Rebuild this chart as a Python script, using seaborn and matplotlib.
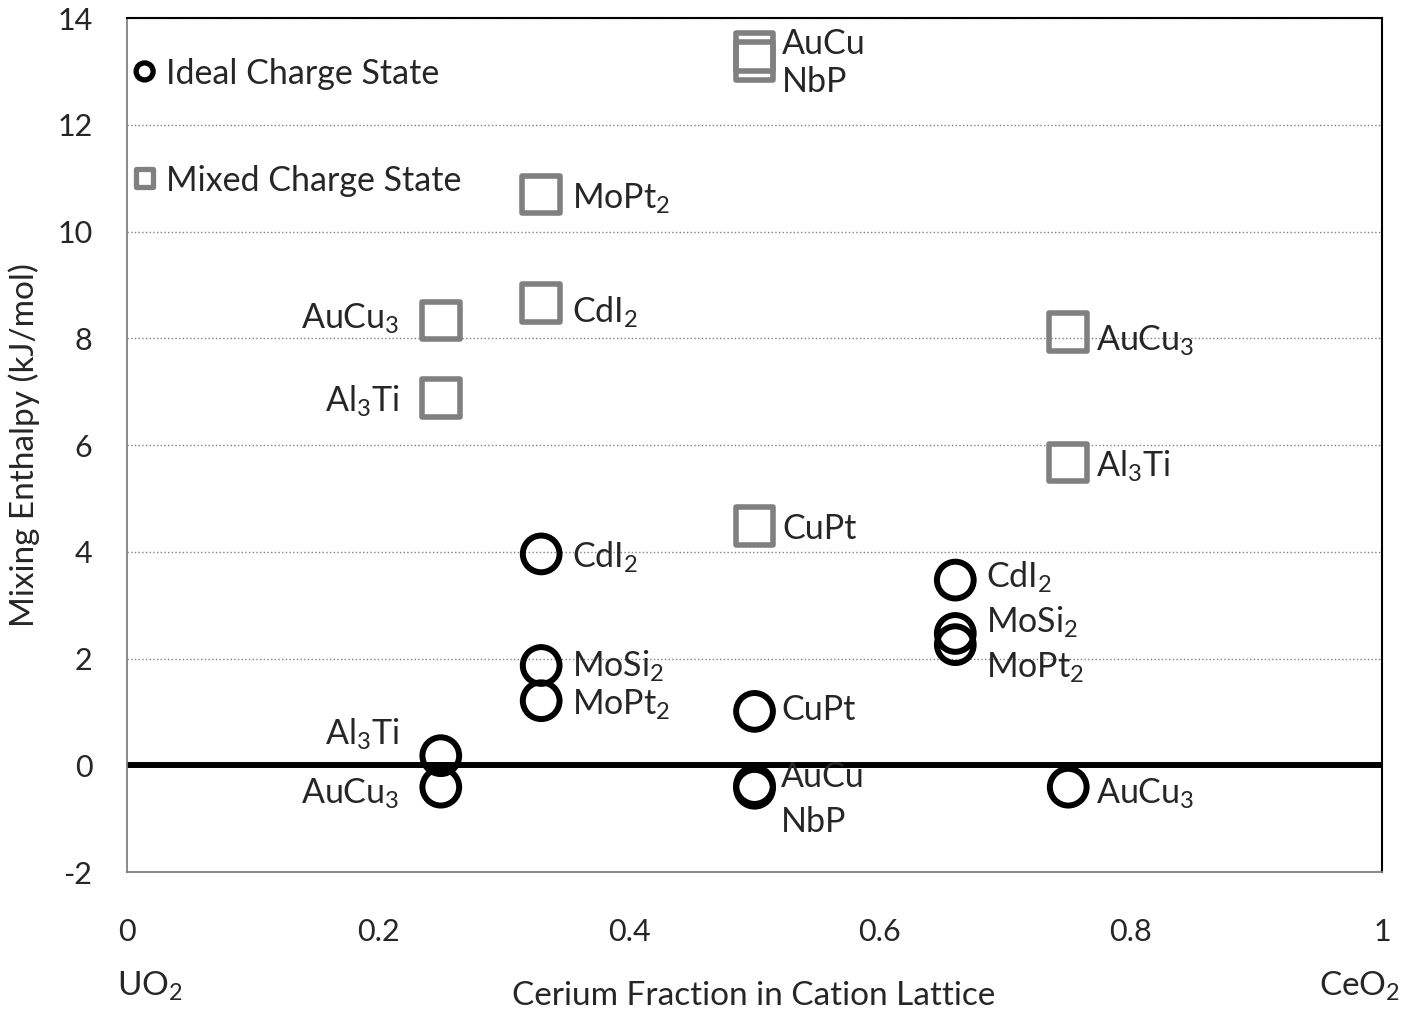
import pandas as pd
import seaborn as sns
import matplotlib.pyplot as plt

# values
ideal_x = [0.25, 0.25, 0.33, 0.33, 0.33, 0.50, 0.50, 0.50, 0.66, 0.66, 0.66, 0.75]
ideal_y = [0.18, -0.41, 3.96, 1.87, 1.21, 1.01, -0.38, -0.43, 3.47, 2.47, 2.26, -0.41]
ideal_names = ['Al$_3$Ti', 'AuCu$_3$', 'CdI$_2$', 'MoSi$_2$', 'MoPt$_2$', 'CuPt',
               'AuCu', 'NbP', 'CdI$_2$', 'MoSi$_2$', 'MoPt$_2$', 'AuCu$_3$']

mixed_x = [0.50, 0.50, 0.33, 0.33, 0.25, 0.25, 0.75, 0.75, 0.50]
mixed_y = [13.36, 13.20, 10.69, 8.66, 8.33, 6.88, 8.12, 5.67, 4.48]
mixed_names = ['AuCu', 'NbP', 'MoPt$_2$', 'CdI$_2$', 'AuCu$_3$', 'Al$_3$Ti',
               'AuCu$_3$', 'Al$_3$Ti', 'CuPt']

x_ticks = [0, 0.2, 0.4, 0.6, 0.8, 1]
x_ticklabels = ['0', '0.2', '0.4', '0.6', '0.8', '1']
y_ticks = list(range(-2, 15, 2))

# label placement (points, relative to marker centre): (dx, dy, align)
ideal_offsets = [(-30, 18, 'right'), (-30, -2, 'right'), (22, 0, 'left'), (22, 2, 'left'),
                 (22, 0, 'left'), (19, 3, 'left'), (19, 8, 'left'), (19, -22, 'left'),
                 (22, 5, 'left'), (22, 11, 'left'), (22, -14, 'left'), (20, -2, 'left')]
mixed_offsets = [(20, 8, 'left'), (20, -13, 'left'), (22, 0, 'left'), (22, -4, 'left'),
                 (-30, 4, 'right'), (-30, 0, 'right'), (20, -4, 'left'), (20, 0, 'left'),
                 (20, 0, 'left')]

ideal_df = pd.DataFrame({'x': ideal_x, 'y': ideal_y, 'name': ideal_names})
mixed_df = pd.DataFrame({'x': mixed_x, 'y': mixed_y, 'name': mixed_names})

sns.set_style('white')
plt.rcParams['font.family'] = ['Lato', 'DejaVu Sans']
plt.rcParams['mathtext.fontset'] = 'custom'
plt.rcParams['mathtext.rm'] = 'Lato'
plt.rcParams['mathtext.it'] = 'Lato'
plt.rcParams['mathtext.default'] = 'regular'

gray = '#808080'
fig = plt.figure(figsize=(14.04, 10.14), dpi=100)
ax = fig.add_axes([0.0905, 0.140, 0.8938, 0.8422])

ax.axhline(0, color='black', lw=4.3, zorder=1)

sns.scatterplot(data=mixed_df, x='x', y='y', ax=ax, marker='s', s=730,
                facecolor='none', edgecolor=gray, linewidth=4.0, zorder=3)
sns.scatterplot(data=ideal_df, x='x', y='y', ax=ax, marker='o', s=700,
                facecolor='none', edgecolor='black', linewidth=4.3, zorder=4)
for c in ax.collections:
    c.set_joinstyle('round')

label_size = 24.5
for df, offs in [(ideal_df, ideal_offsets), (mixed_df, mixed_offsets)]:
    for (px, py, name), (dx, dy, ha) in zip(df[['x', 'y', 'name']].values, offs):
        ax.annotate(name, (px, py), xytext=(dx, dy), textcoords='offset points',
                    ha=ha, va='center_baseline', fontsize=label_size)

# legend drawn as markers + text inside the axes
ax.scatter([0.014], [13.0], marker='o', s=150, facecolor='none', edgecolor='black',
           linewidth=3.8, zorder=5)
ax.text(0.031, 13.0, 'Ideal Charge State', ha='left', va='center_baseline', fontsize=label_size)
ax.scatter([0.014], [11.0], marker='s', s=160, facecolor='none', edgecolor=gray,
           linewidth=3.8, zorder=5)
ax.text(0.031, 11.0, 'Mixed Charge State', ha='left', va='center_baseline', fontsize=label_size)

ax.set_xlim(0, 1)
ax.set_ylim(-2, 14)
ax.set_xticks(x_ticks)
ax.set_xticklabels(x_ticklabels)
ax.set_yticks(y_ticks)
ax.set_yticklabels([str(v) for v in y_ticks])
ax.tick_params(axis='x', direction='inout', length=18, width=1, color=gray,
               labelsize=22, pad=24)
ax.tick_params(axis='y', direction='out', length=9, width=1, color=gray,
               labelsize=22, pad=16)
ax.yaxis.grid(True, linestyle=':', color=gray, lw=1)
ax.set_axisbelow(True)

for side in ['left', 'bottom']:
    ax.spines[side].set_color(gray)
    ax.spines[side].set_linewidth(1.3)
for side in ['top', 'right']:
    ax.spines[side].set_color('black')
    ax.spines[side].set_linewidth(1.5)

ax.set_xlabel('')
ax.set_ylabel('Mixing Enthalpy (kJ/mol)', fontsize=24, labelpad=12)
fig.text(0.537, 0.0207, 'Cerium Fraction in Cation Lattice', ha='center',
         va='center_baseline', fontsize=24)
fig.text(0.083, 0.0305, 'UO$_2$', ha='left', va='center_baseline', fontsize=24)
fig.text(0.997, 0.0305, 'CeO$_2$', ha='right', va='center_baseline', fontsize=24)

plt.savefig('out.png', dpi=100)
